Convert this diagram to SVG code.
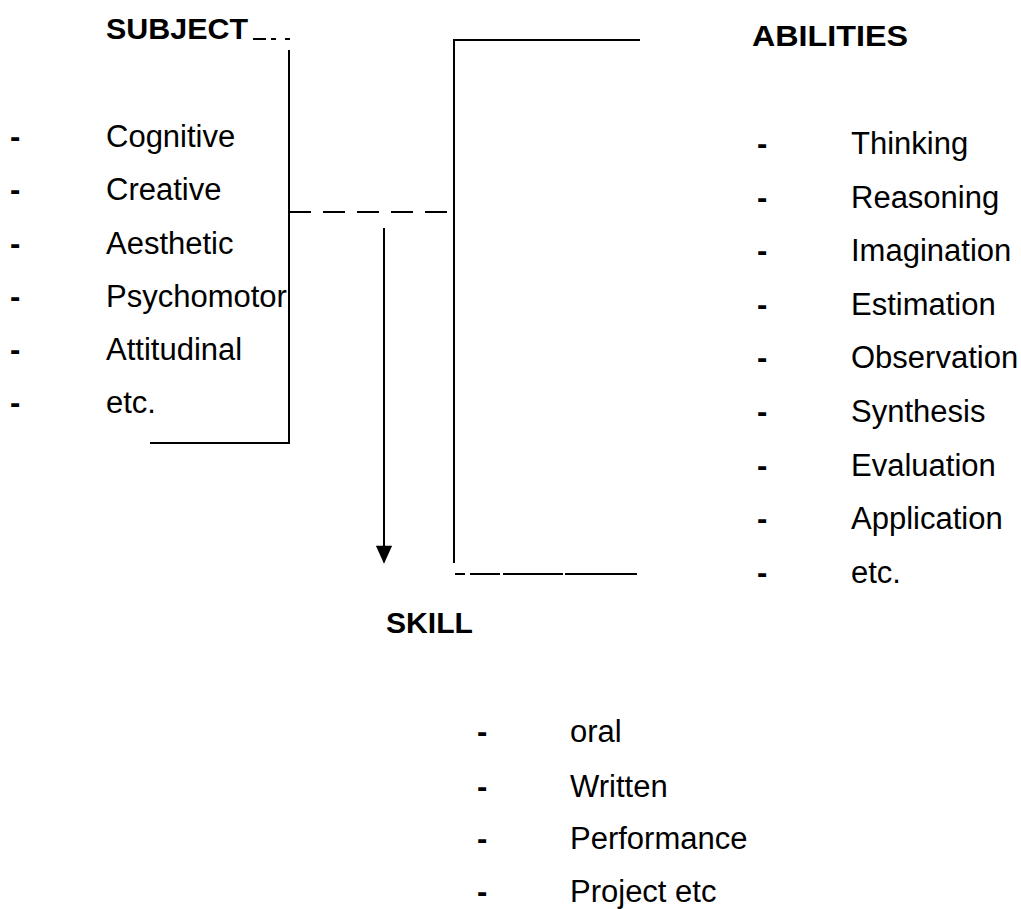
<svg xmlns="http://www.w3.org/2000/svg" width="1021" height="909" viewBox="0 0 1021 909">
  <defs>
    <style>
      .h { font-family: "Liberation Sans", Arial, sans-serif; font-weight: bold; font-size: 29px; fill: #000; }
      .t { font-family: "Liberation Sans", Arial, sans-serif; font-size: 31px; fill: #000; }
      .d { font-family: "Liberation Sans", Arial, sans-serif; font-size: 31px; font-weight: bold; fill: #000; }
      .ln { stroke: #000; stroke-width: 2; fill: none; }
    </style>
    <marker id="arr" viewBox="0 0 18 20" refX="18" refY="9" markerWidth="20" markerHeight="18" markerUnits="userSpaceOnUse" orient="auto">
      <path d="M0,0 L20,9 L0,18 z" fill="#000"/>
    </marker>
  </defs>
  <rect width="1021" height="909" fill="#fff"/>

  <g id="subject">
    <text class="h" x="106" y="39" textLength="142" lengthAdjust="spacingAndGlyphs">SUBJECT</text>
    <text class="d" x="10" y="147">-</text><text class="t" x="106" y="147">Cognitive</text>
    <text class="d" x="10" y="200">-</text><text class="t" x="106" y="200">Creative</text>
    <text class="d" x="10" y="254">-</text><text class="t" x="106" y="254">Aesthetic</text>
    <text class="d" x="10" y="307">-</text><text class="t" x="106" y="307">Psychomotor</text>
    <text class="d" x="10" y="360">-</text><text class="t" x="106" y="360">Attitudinal</text>
    <text class="d" x="10" y="413">-</text><text class="t" x="106" y="413">etc.</text>
  </g>

  <g id="abilities">
    <text class="h" x="752" y="46" textLength="156" lengthAdjust="spacingAndGlyphs">ABILITIES</text>
    <text class="d" x="757" y="154">-</text><text class="t" x="851" y="154">Thinking</text>
    <text class="d" x="757" y="207.6">-</text><text class="t" x="851" y="207.6">Reasoning</text>
    <text class="d" x="757" y="261.2">-</text><text class="t" x="851" y="261.2">Imagination</text>
    <text class="d" x="757" y="314.8">-</text><text class="t" x="851" y="314.8">Estimation</text>
    <text class="d" x="757" y="368.4">-</text><text class="t" x="851" y="368.4">Observation</text>
    <text class="d" x="757" y="422">-</text><text class="t" x="851" y="422">Synthesis</text>
    <text class="d" x="757" y="475.6">-</text><text class="t" x="851" y="475.6">Evaluation</text>
    <text class="d" x="757" y="529.2">-</text><text class="t" x="851" y="529.2">Application</text>
    <text class="d" x="757" y="583">-</text><text class="t" x="851" y="583">etc.</text>
  </g>

  <g id="skill">
    <text class="h" x="386" y="633" textLength="87" lengthAdjust="spacingAndGlyphs">SKILL</text>
    <text class="d" x="477" y="742">-</text><text class="t" x="570" y="742">oral</text>
    <text class="d" x="477" y="797">-</text><text class="t" x="570" y="797">Written</text>
    <text class="d" x="477" y="849">-</text><text class="t" x="570" y="849">Performance</text>
    <text class="d" x="477" y="902">-</text><text class="t" x="570" y="902">Project etc</text>
  </g>

  <g id="connectors">
    <!-- subject bracket -->
    <path class="ln" d="M253,39 H290" stroke-dasharray="13 5 5 9"/>
    <path class="ln" d="M289,50 V443 H150"/>
    <!-- middle dashed link -->
    <path class="ln" d="M289,212 H454" stroke-dasharray="22 12"/>
    <!-- abilities bracket -->
    <path class="ln" d="M640,40 H454 V563"/>
    <path class="ln" d="M455,574 H637" stroke-dasharray="10 5 30 3 60 2 80"/>
    <!-- arrow to skill -->
    <path class="ln" d="M384,228 V562" marker-end="url(#arr)"/>
  </g>
</svg>
